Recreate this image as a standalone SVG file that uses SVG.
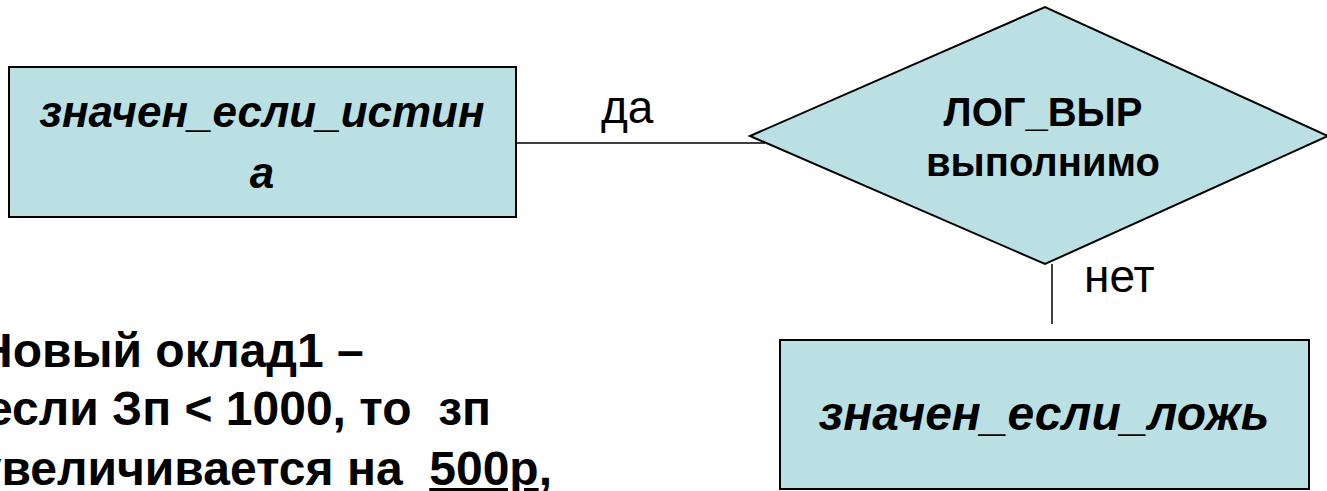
<svg xmlns="http://www.w3.org/2000/svg" width="1327" height="491" viewBox="0 0 1327 491">
<style>
.box{fill:#BBE0E3;stroke:#000;stroke-width:2}
.conn{stroke:#000;stroke-width:1.5;fill:none}
.t{font-family:"Liberation Sans",Arial,sans-serif;fill:#000;white-space:pre}
.bi{font-weight:bold;font-style:italic;text-anchor:middle}
.b{font-weight:bold}
.lbl{font-size:46px}
</style>
<rect width="1327" height="491" fill="#fff"/>
<g id="connectors">
<line class="conn" x1="516" y1="143" x2="765" y2="143"/>
<line class="conn" x1="1052" y1="264" x2="1052" y2="324"/>
</g>
<g id="node-true">
<rect class="box" x="9" y="67" width="507" height="150"/>
<text class="t bi" x="262" y="127" font-size="44">значен_если_истин</text>
<text class="t bi" x="262" y="188" font-size="44">а</text>
</g>
<g id="node-cond">
<polygon class="box" points="750,136 1045,7 1328,136 1045,264"/>
<text class="t b" x="1043" y="126" font-size="40" text-anchor="middle">ЛОГ_ВЫР</text>
<text class="t b" x="1043" y="176" font-size="40" text-anchor="middle">выполнимо</text>
</g>
<g id="node-false">
<rect class="box" x="780" y="340" width="529" height="149"/>
<text class="t bi" x="1044" y="430" font-size="48">значен_если_ложь</text>
</g>
<g id="labels">
<text class="t lbl" x="601" y="123">да</text>
<text class="t lbl" x="1084" y="292">нет</text>
</g>
<g id="note">
<text class="t b" x="-22" y="367" font-size="48">Новый оклад1 –</text>
<text class="t b" x="491" y="425" font-size="48" text-anchor="end">если Зп &lt; 1000, то  зп</text>
<text class="t b" x="552" y="485" font-size="48" text-anchor="end">увеличивается на  <tspan text-decoration="underline">500р</tspan>,</text>
</g>
</svg>
